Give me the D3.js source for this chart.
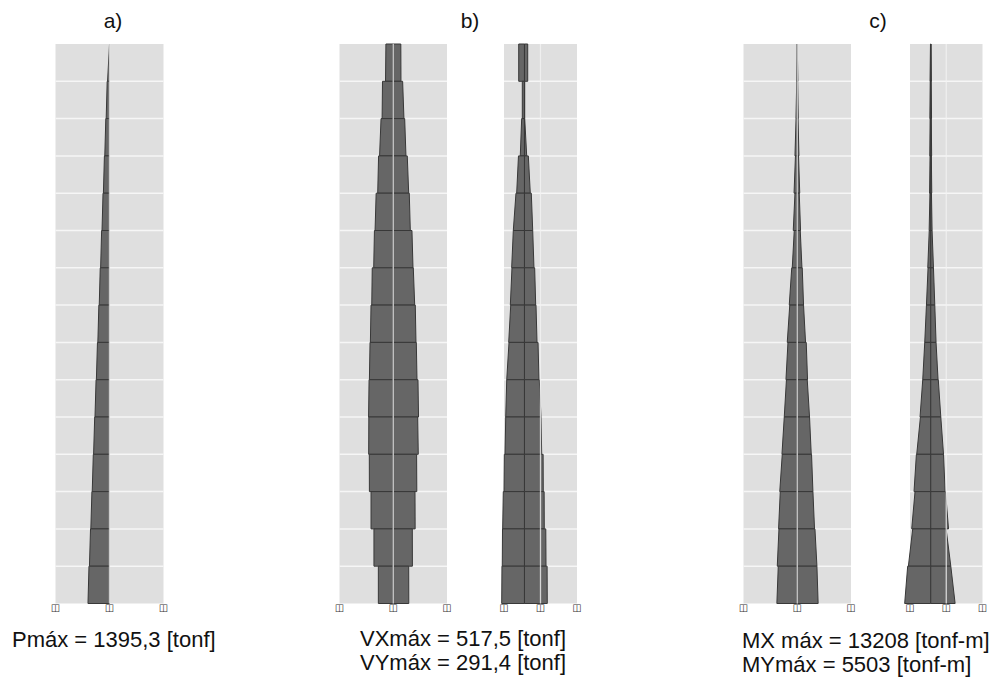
<!DOCTYPE html>
<html>
<head>
<meta charset="utf-8">
<script src="https://cdn.jsdelivr.net/npm/d3@7"></script>
<style>
  body { margin: 0; background: #fff; }
  svg { display: block; }
</style>
</head>
<body>
<div id="chart"></div>
<script>
// storeys, listed from the roof down
const storeys = [15, 14, 13, 12, 11, 10, 9, 8, 7, 6, 5, 4, 3, 2, 1];

// a) axial load P [tonf], only compression side
const pTop = [0, 150, 240, 330, 420, 510, 600, 690, 780, 870, 960, 1050, 1140, 1230, 1330];
const pBot = [125, 215, 305, 395, 485, 575, 665, 755, 850, 940, 1030, 1120, 1210, 1300, 1395.3];

// b) shear VX [tonf], negative / positive envelope
const vxNegTop = [150, 220, 250, 300, 350, 385, 430, 455, 475, 495, 500, 490, 455, 395, 305];
const vxNegBot = [158, 228, 280, 318, 372, 400, 440, 468, 488, 505, 503, 488, 455, 395, 305];
const vxPosTop = [155, 192, 234, 287, 328, 383, 410, 451, 472, 506, 500, 478, 445, 390, 316];
const vxPosBot = [158, 219, 260, 316, 349, 404, 439, 465, 486, 517.5, 512, 482, 448, 392, 318];

// b) shear VY [tonf]
const vyNegTop = [74, 28, 36, 77, 109, 143, 160, 176, 198, 227, 240, 258, 271, 281, 288];
const vyNegBot = [74, 28, 54, 100, 143, 164, 181, 202, 227, 240, 249, 262, 279, 284, 291.4];
const vyPosTop = [41, 3, 3, 49, 87, 105, 130, 147, 173, 189, 211, 238, 251, 272, 289];
const vyPosBot = [41, 3, 28, 74, 105, 121, 143, 160, 185, 211, 220, 240, 253, 275, 291];

// c) moment MX [tonf-m]
const mxNegTop = [0, 320, 760, 1140, 1450, 1900, 3480, 4740, 5880, 6830, 8220, 9480, 10740, 11570, 12010];
const mxNegBot = [440, 820, 1450, 2020, 2530, 3160, 5060, 6320, 7140, 8220, 9670, 11060, 11820, 12640, 12890];
const mxPosTop = [0, 250, 510, 820, 1260, 1900, 3160, 3980, 5690, 6320, 7770, 9040, 9920, 11190, 12450];
const mxPosBot = [380, 630, 1070, 1580, 2090, 2970, 3980, 5250, 6510, 7770, 8850, 9920, 10930, 12450, 13208];

// c) moment MY [tonf-m]
const myNegTop = [60, 110, 130, 150, 170, 320, 570, 910, 1270, 1690, 2180, 3030, 3320, 3810, 4870];
const myNegBot = [150, 190, 210, 250, 340, 630, 910, 1270, 1690, 2260, 2960, 3530, 4020, 4720, 5503];
const myPosTop = [60, 80, 110, 130, 150, 280, 570, 850, 1120, 1590, 2120, 2690, 3110, 3240, 4230];
const myPosBot = [130, 170, 190, 210, 280, 570, 850, 1120, 1540, 2120, 2690, 3030, 3750, 4230, 5140];

const width = 995;
const height = 682;
const marginTop = 44;
const marginBottom = 603.5;

const panels = [
  { x0: 55.5, x1: 163.5, domain: [-3500, 3500], negTop: pTop, negBot: pBot },
  { x0: 339.5, x1: 447, domain: [-1100, 1100], negTop: vxNegTop, negBot: vxNegBot, posTop: vxPosTop, posBot: vxPosBot },
  { x0: 504, x1: 577, domain: [-262, 671], negTop: vyNegTop, negBot: vyNegBot, posTop: vyPosTop, posBot: vyPosBot },
  { x0: 743.5, x1: 851, domain: [-34000, 34000], negTop: mxNegTop, negBot: mxNegBot, posTop: mxPosTop, posBot: mxPosBot },
  { x0: 910, x1: 982.5, domain: [-4380, 10920], negTop: myNegTop, negBot: myNegBot, posTop: myPosTop, posBot: myPosBot }
];

const svg = d3.select("#chart").append("svg")
  .attr("width", width)
  .attr("height", height)
  .attr("viewBox", [0, 0, width, height]);

// storey level -> vertical position (level 0 = base, 15 = roof)
const y = d3.scaleLinear().domain([0, storeys.length]).range([marginBottom, marginTop]);

panels.forEach(p => {
  const x = d3.scaleLinear().domain(p.domain).range([p.x0, p.x1]);
  const mid = (p.domain[0] + p.domain[1]) / 2;
  const g = svg.append("g");

  g.append("rect")
    .attr("x", p.x0)
    .attr("y", marginTop)
    .attr("width", p.x1 - p.x0)
    .attr("height", marginBottom - marginTop)
    .attr("fill", "#dfdfdf");

  // floor lines
  g.append("g")
    .selectAll("line")
    .data(storeys.slice(1))
    .join("line")
    .attr("x1", p.x0)
    .attr("x2", p.x1)
    .attr("y1", d => y(d))
    .attr("y2", d => y(d))
    .attr("stroke", "#f6f6f6")
    .attr("stroke-width", 1.5);

  const shape = g.append("g")
    .attr("fill", "#666")
    .attr("stroke", "#383838")
    .attr("stroke-width", 1)
    .attr("stroke-linejoin", "round");

  function poly(top, bot, sign) {
    shape.append("g")
      .selectAll("path")
      .data(storeys)
      .join("path")
      .attr("d", (s, i) => {
        const yt = y(s), yb = y(s - 1);
        return `M${x(0)},${yt}L${x(sign * top[i])},${yt}L${x(sign * bot[i])},${yb}L${x(0)},${yb}Z`;
      });
  }
  poly(p.negTop, p.negBot, -1);
  if (p.posTop) poly(p.posTop, p.posBot, 1);

  // centre line drawn over the diagram
  g.append("line")
    .attr("x1", x(mid))
    .attr("x2", x(mid))
    .attr("y1", marginTop)
    .attr("y2", marginBottom)
    .attr("stroke", "#f2f2f2")
    .attr("stroke-opacity", 0.8)
    .attr("stroke-width", 1.3);

  // tick marks (unreadable box glyphs in the source)
  g.append("g")
    .attr("font-family", "DejaVu Sans")
    .attr("font-size", 10)
    .attr("text-anchor", "middle")
    .attr("fill", "#333")
    .selectAll("text")
    .data([p.domain[0], mid, p.domain[1]])
    .join("text")
    .attr("x", d => x(d))
    .attr("y", 611)
    .text("◫");
});

// panel letters
const titles = [
  { label: "a)", x: 113 },
  { label: "b)", x: 470 },
  { label: "c)", x: 878 }
];
svg.append("g")
  .attr("font-family", "Liberation Sans, Arial, sans-serif")
  .attr("font-size", 21)
  .attr("text-anchor", "middle")
  .attr("fill", "#111")
  .selectAll("text")
  .data(titles)
  .join("text")
  .attr("x", d => d.x)
  .attr("y", 28)
  .text(d => d.label);

// maxima
const notes = [
  { x: 12, y: 647, text: "Pmáx = 1395,3 [tonf]" },
  { x: 360, y: 646, text: "VXmáx = 517,5 [tonf]" },
  { x: 360, y: 670, text: "VYmáx = 291,4 [tonf]" },
  { x: 742, y: 648, text: "MX máx = 13208 [tonf-m]" },
  { x: 742, y: 672, text: "MYmáx = 5503 [tonf-m]" }
];
svg.append("g")
  .attr("font-family", "Liberation Sans, Arial, sans-serif")
  .attr("font-size", 22)
  .attr("fill", "#111")
  .selectAll("text")
  .data(notes)
  .join("text")
  .attr("x", d => d.x)
  .attr("y", d => d.y)
  .text(d => d.text);
</script>
</body>
</html>
